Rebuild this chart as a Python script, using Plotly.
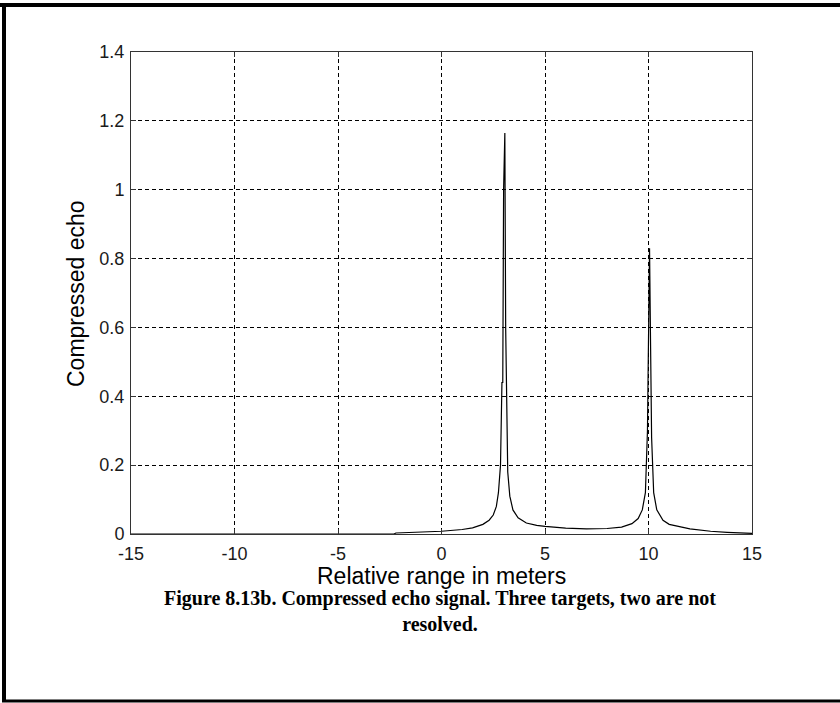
import plotly.graph_objects as go

# Relative range (m) and compressed echo amplitude
range_m = [-15, -10, -5, -2.3, -2.2, -1, 0, 1, 1.5, 2.0, 2.3, 2.5, 2.65, 2.75, 2.85,
           2.92, 2.96, 3.0, 3.03, 3.06, 3.1, 3.14, 3.2, 3.3, 3.45, 3.7, 4.1, 4.6,
           5, 6, 7, 8, 8.7, 9.2, 9.5, 9.7, 9.85, 9.95, 10.0, 10.05, 10.1, 10.15,
           10.25, 10.4, 10.7, 11, 12, 13, 13.8, 14.5, 15]
echo = [0.0, 0.0, 0.0, 0.0, 0.003, 0.005, 0.008, 0.013, 0.018, 0.028, 0.04, 0.055,
        0.08, 0.12, 0.2, 0.44, 0.44, 1.0, 1.165, 1.165, 0.6, 0.35, 0.18, 0.11, 0.07,
        0.047, 0.032, 0.025, 0.022, 0.017, 0.015, 0.016, 0.02, 0.03, 0.045, 0.07,
        0.12, 0.3, 0.62, 0.83, 0.55, 0.28, 0.12, 0.07, 0.04, 0.028, 0.015, 0.008,
        0.005, 0.003, 0.002]

x_ticks = [-15, -10, -5, 0, 5, 10, 15]
y_ticks = [0, 0.2, 0.4, 0.6, 0.8, 1, 1.2, 1.4]
y_tick_text = ["0", "0.2", "0.4", "0.6", "0.8", "1", "1.2", "1.4"]

x_title = "Relative range in meters"
y_title = "Compressed echo"
caption_lines = ["Figure 8.13b. Compressed echo signal. Three targets, two are not",
                 "resolved."]

fig = go.Figure()
fig.add_trace(go.Scatter(x=range_m, y=echo, mode="lines",
                         line=dict(color="black", width=1.2), showlegend=False,
                         hoverinfo="skip"))

# plot area pixel geometry
L, R, T, B = 131, 752, 52, 534
W, H = 840, 703
pw, ph = R - L, B - T

def px(x):
    return (x - L) / pw

def py(y):
    return (B - y) / ph

SANS = "Liberation Sans, Arial, Helvetica"
SERIF = "Liberation Serif, Times New Roman"

axis_common = dict(showgrid=True, gridcolor="black", griddash="4px,3px", gridwidth=1,
                   zeroline=False, showline=True, linecolor="#333", linewidth=1,
                   mirror="ticks", ticks="inside", ticklen=5, tickcolor="#333",
                   tickfont=dict(family=SANS, size=18, color="#1a1a1a"))

fig.update_xaxes(range=[-15, 15], tickvals=x_ticks, ticktext=[str(v) for v in x_ticks],
                 ticklabelstandoff=3, **axis_common)
fig.update_yaxes(range=[0, 1.4], tickvals=y_ticks, ticktext=y_tick_text,
                 ticklabelstandoff=2, **axis_common)

shapes = [
    dict(type="line", xref="paper", yref="paper", x0=px(0), x1=px(W), y0=py(5), y1=py(5),
         line=dict(color="black", width=4)),
    dict(type="line", xref="paper", yref="paper", x0=px(4), x1=px(4), y0=py(3), y1=py(702),
         line=dict(color="black", width=4)),
    dict(type="line", xref="paper", yref="paper", x0=px(2), x1=px(W), y0=py(701), y1=py(701),
         line=dict(color="black", width=3)),
]

caption = "<b>" + caption_lines[0] + "</b><br><b>" + caption_lines[1] + "</b>"

annotations = [
    dict(text=x_title, xref="paper", yref="paper", x=px(441), y=py(576),
         xanchor="center", yanchor="middle", showarrow=False,
         font=dict(family=SANS, size=23, color="black")),
    dict(text=y_title, xref="paper", yref="paper", x=px(76), y=py(294), textangle=-90,
         xanchor="center", yanchor="middle", showarrow=False,
         font=dict(family=SANS, size=23, color="black")),
    dict(text=caption, xref="paper", yref="paper",
         x=px(440), y=py(611), xanchor="center", yanchor="middle", showarrow=False,
         font=dict(family=SERIF, size=20, color="black")),
]

fig.update_layout(
    width=W, height=H,
    margin=dict(l=L, r=W - R, t=T, b=H - B, pad=0),
    paper_bgcolor="white", plot_bgcolor="white",
    shapes=shapes,
    annotations=annotations,
)

fig.write_html("out.html")
